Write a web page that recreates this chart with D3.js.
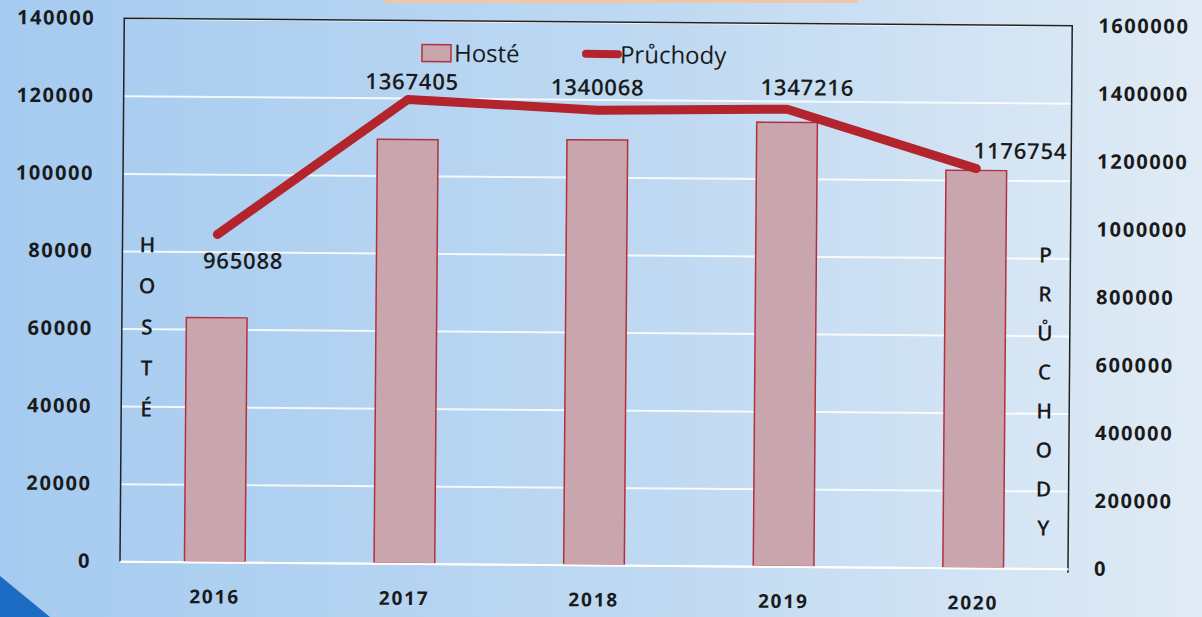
<!DOCTYPE html>
<html>
<head>
<meta charset="utf-8">
<script src="https://cdn.jsdelivr.net/npm/d3@7"></script>
<style>
  html, body { margin: 0; padding: 0; }
  body { width: 1202px; height: 617px; overflow: hidden; }
  svg text { font-family: "Open Sans", "DejaVu Sans", sans-serif; fill: #1a1a1a; }
</style>
</head>
<body>
<div id="chart"></div>
<script>
var years = ["2016", "2017", "2018", "2019", "2020"];
var hoste = [63000, 109300, 109600, 114500, 102500];
var pruchody = [965088, 1367405, 1340068, 1347216, 1176754];
var leftTicks = [0, 20000, 40000, 60000, 80000, 100000, 120000, 140000];
var rightTicks = [0, 200000, 400000, 600000, 800000, 1000000, 1200000, 1400000, 1600000];

var W = 1202, H = 617;
var margin = {top: 22, right: 132, bottom: 52, left: 122},
    width = W - margin.left - margin.right,
    height = H - margin.top - margin.bottom;

var svg = d3.select("#chart").append("svg")
    .attr("width", W)
    .attr("height", H);

// background
var defs = svg.append("defs");
var grad = defs.append("linearGradient").attr("id", "bg")
    .attr("x1", "0%").attr("y1", "0%").attr("x2", "100%").attr("y2", "0%");
grad.append("stop").attr("offset", "0%").attr("stop-color", "#a5cbf0");
grad.append("stop").attr("offset", "55%").attr("stop-color", "#bfd9f2");
grad.append("stop").attr("offset", "100%").attr("stop-color", "#e0ebf5");
svg.append("rect").attr("width", W).attr("height", H).attr("fill", "url(#bg)");
svg.append("rect").attr("x", 385).attr("y", 0).attr("width", 473).attr("height", 3).attr("fill", "#f0c6a8");
svg.append("path").attr("d", "M0,576 L50,617 L0,617 Z").attr("fill", "#1b6cc2");

// slight tilt of the photographed page
var g = svg.append("g")
    .attr("transform", "rotate(0.45," + (W / 2) + "," + (H / 2) + ") translate(" + margin.left + "," + margin.top + ")");

var x = d3.scaleBand().domain(years).range([0, width]).paddingInner(0.68).paddingOuter(0.34);
var yL = d3.scaleLinear().domain([0, 140000]).range([height, 0]);
var yR = d3.scaleLinear().domain([0, 1600000]).range([height, 0]);

// gridlines
g.append("g")
    .attr("class", "grid")
    .call(d3.axisLeft(yL).tickValues(leftTicks).tickSize(-width).tickFormat(""))
    .call(function(s) {
      s.select(".domain").remove();
      s.selectAll("line").attr("stroke", "#ffffff").attr("stroke-width", 2).attr("opacity", 0.85);
    });

// frame: left, top, right
g.append("path")
    .attr("d", "M0," + height + "V0H" + width + "V" + (height + 4))
    .attr("fill", "none")
    .attr("stroke", "#222")
    .attr("stroke-width", 1.5);

// bars
g.selectAll(".bar")
    .data(hoste)
    .enter().append("rect")
    .attr("class", "bar")
    .attr("x", function(d, i) { return x(years[i]); })
    .attr("width", x.bandwidth())
    .attr("y", function(d) { return yL(d); })
    .attr("height", function(d) { return height - yL(d); })
    .attr("fill", "#c9a6ad")
    .attr("stroke", "#b3303e")
    .attr("stroke-width", 1.5);

// line
var valueline = d3.line()
    .x(function(d, i) { return x(years[i]) + x.bandwidth() / 2; })
    .y(function(d) { return yR(d); });

g.append("path")
    .datum(pruchody)
    .attr("d", valueline)
    .attr("fill", "none")
    .attr("stroke", "#b3242c")
    .attr("stroke-width", 9)
    .attr("stroke-linecap", "round")
    .attr("stroke-linejoin", "round");

// data labels
var lblOff = [[26, 34], [4, -10], [0, -15], [20, -14], [44, -10]];
g.selectAll(".lbl")
    .data(pruchody)
    .enter().append("text")
    .attr("class", "lbl")
    .attr("x", function(d, i) { return x(years[i]) + x.bandwidth() / 2 + lblOff[i][0]; })
    .attr("y", function(d, i) { return yR(d) + lblOff[i][1]; })
    .attr("text-anchor", "middle")
    .attr("font-size", "22px")
    .attr("font-weight", 600)
    .attr("letter-spacing", "0.8px")
    .text(function(d) { return d; });

// axes
var axL = g.append("g")
    .call(d3.axisLeft(yL).tickValues(leftTicks).tickSize(0).tickPadding(29).tickFormat(d3.format("d")));
axL.select(".domain").remove();
axL.selectAll("text").attr("font-size", "20px").attr("font-weight", 700)
    .attr("letter-spacing", "1.6px").attr("font-family", "\"Open Sans\", sans-serif");

var axR = g.append("g")
    .attr("transform", "translate(" + width + ",0)")
    .call(d3.axisRight(yR).tickValues(rightTicks).tickSize(0).tickPadding(26).tickFormat(d3.format("d")));
axR.select(".domain").remove();
axR.selectAll("text").attr("font-size", "20px").attr("font-weight", 700)
    .attr("letter-spacing", "1.6px").attr("font-family", "\"Open Sans\", sans-serif");

var axX = g.append("g")
    .attr("transform", "translate(0," + height + ")")
    .call(d3.axisBottom(x).tickSize(0).tickPadding(28));
axX.select(".domain").attr("stroke", "#ffffff").attr("stroke-width", 2);
axX.selectAll("text").attr("font-size", "19px").attr("font-weight", 700)
    .attr("letter-spacing", "1.8px").attr("font-family", "\"Open Sans\", sans-serif");

// vertical axis titles (stacked letters)
function stacked(word, cx, cy0, step) {
  g.append("g").selectAll("text")
    .data(word.split(""))
    .enter().append("text")
    .attr("x", cx)
    .attr("y", function(d, i) { return cy0 + i * step; })
    .attr("text-anchor", "middle")
    .attr("dominant-baseline", "central")
    .attr("font-size", "21px")
    .attr("font-weight", 600)
    .text(function(d) { return d; });
}
stacked("HOSTÉ", 25, 226, 41);
stacked("PRŮCHODY", width - 25, 229, 39);

// legend
var leg = g.append("g").attr("transform", "translate(298,24)");
leg.append("rect").attr("x", 0).attr("y", 0).attr("width", 29).attr("height", 17)
    .attr("fill", "#c9a6ad").attr("stroke", "#b3303e").attr("stroke-width", 1.5);
leg.append("text").attr("x", 32).attr("y", 17).attr("font-size", "24px").attr("font-weight", 500).text("Hosté");
leg.append("line").attr("x1", 164).attr("x2", 196).attr("y1", 8).attr("y2", 8)
    .attr("stroke", "#b3242c").attr("stroke-width", 8).attr("stroke-linecap", "round");
leg.append("text").attr("x", 198).attr("y", 17).attr("font-size", "24px").attr("font-weight", 500).text("Průchody");
</script>
</body>
</html>
